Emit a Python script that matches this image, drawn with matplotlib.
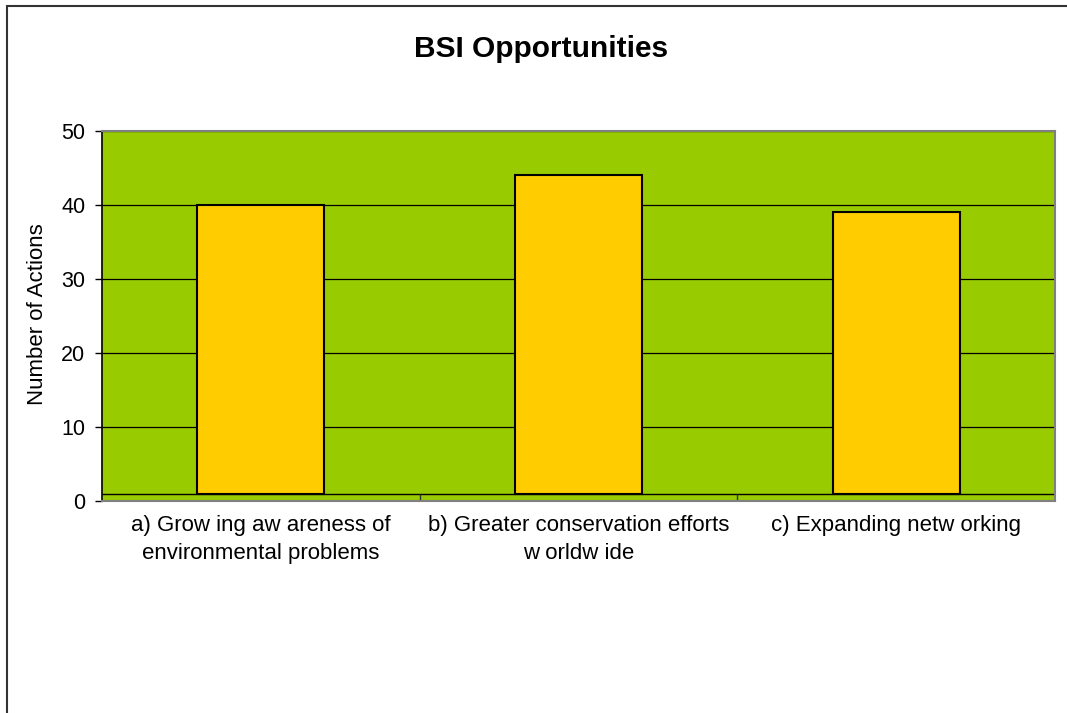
import matplotlib
matplotlib.use("Agg")
import matplotlib.pyplot as plt
from matplotlib.patches import Rectangle
import numpy as np

plt.rcParams['font.family'] = ['Liberation Sans', 'DejaVu Sans']

categories = ["a) Grow ing aw areness of\nenvironmental problems",
              "b) Greater conservation efforts\nw orldw ide",
              "c) Expanding netw orking"]
values = [40, 44, 39]
axis_cross = 1
yticks = [0, 10, 20, 30, 40, 50]
title = "BSI Opportunities"
ylabel = "Number of Actions"

fig = plt.figure(figsize=(10.67, 7.13), dpi=100)
fig.patch.set_facecolor('white')
# chart border (top and left visible, rest cropped)
fig.add_artist(Rectangle((7/1067, -0.1), 1.2, 1 - 6/713 + 0.1, transform=fig.transFigure,
                         fill=False, edgecolor='#333333', linewidth=1.5))

ax = fig.add_axes([102/1067, 1 - 501/713, (1055 - 102)/1067, (501 - 131)/713])
ax.set_facecolor('#99CC00')

x = np.arange(len(categories))
ax.set_xlim(-0.5, len(categories) - 0.5)
ax.set_ylim(0, 50)
ax.yaxis.grid(True, color='black', linewidth=0.9)
ax.set_axisbelow(True)

ax.bar(x, [v - axis_cross for v in values], bottom=axis_cross, width=0.40,
       color='#FFCC00', edgecolor='black', linewidth=1.5, zorder=3)

ax.axhline(axis_cross, color='black', linewidth=1.0, zorder=2)
ax.vlines(x[:-1] + 0.5, 0, axis_cross, color='#333333', linewidth=1.0, zorder=2)

ax.set_yticks(yticks)
ax.set_xticks(x)
ax.set_xticklabels(categories, fontsize=16, linespacing=1.45)
ax.tick_params(axis='x', length=0, pad=10)
ax.tick_params(axis='y', direction='out', length=5, width=1, colors='black', labelsize=15.5, pad=7)

for s in ['top', 'right', 'bottom']:
    ax.spines[s].set_color('#808080')
    ax.spines[s].set_linewidth(1.5)
ax.spines['left'].set_color('black')
ax.spines['left'].set_linewidth(1.2)

ax.set_ylabel(ylabel, fontsize=16)
ax.yaxis.label.set_va('center')
ax.yaxis.set_label_coords((38 - 102) / 953, 0.505)
fig.text(541.5/1067, 1 - 57/713, title, fontsize=21.5, fontweight='bold', ha='center', va='baseline')

fig.savefig('out.png', dpi=100)
